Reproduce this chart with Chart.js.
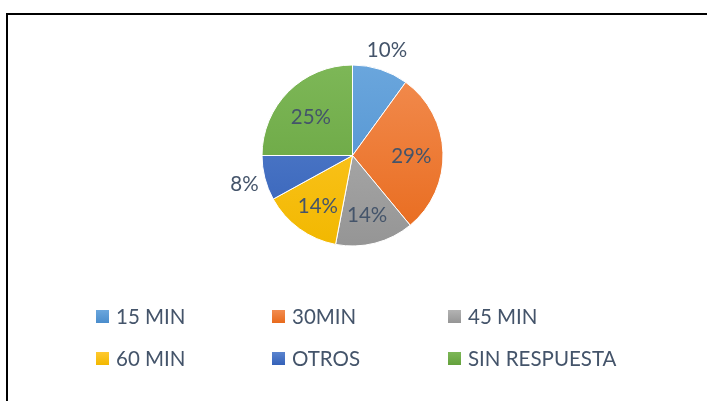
<!DOCTYPE html>
<html>
<head>
<meta charset="utf-8">
<script src="https://cdn.jsdelivr.net/npm/chart.js@4/dist/chart.umd.min.js"></script>
<style>
  html, body { margin: 0; padding: 0; background: #fff; }
  #wrap { position: relative; width: 707px; height: 401px; overflow: hidden; }
  #frame { position: absolute; left: 6px; top: 13px; width: 720px; height: 420px;
           border-top: 2px solid #000; border-left: 2px solid #000; box-sizing: border-box; }
  canvas { position: absolute; left: 0; top: 0; }
  .item { position: absolute; display: flex; align-items: center; height: 28px; white-space: nowrap;
          font-family: Lato, "Open Sans", sans-serif; font-size: 20.5px; color: #44546A; }
  .sw { width: 13px; height: 13px; margin-right: 7px; }
</style>
</head>
<body>
<div id="wrap">
  <div id="frame"></div>
  <canvas id="c" width="707" height="401"></canvas>
</div>
<script>
const categories = ["15 MIN", "30MIN", "45 MIN", "60 MIN", "OTROS", "SIN RESPUESTA"];
const values = [10, 29, 14, 14, 8, 25];
const colorsTop = ["#6aa6dd", "#f28c50", "#b3b3b3", "#ffc930", "#5a84cf", "#7db757"];
const colorsBottom = ["#4a8dcc", "#e86a1c", "#959595", "#f2b800", "#3461b8", "#64a13c"];
const outsideLabels = [true, false, false, false, true, false];

function makeFill(ctx) {
  const chart = ctx.chart;
  const a = chart.chartArea;
  const i = ctx.dataIndex;
  if (!a || i === undefined) return colorsTop[i || 0];
  const g = chart.ctx.createLinearGradient(0, a.top, 0, a.bottom);
  g.addColorStop(0, colorsTop[i]);
  g.addColorStop(1, colorsBottom[i]);
  return g;
}

const labelPlugin = {
  id: 'pctLabels',
  afterDatasetsDraw(chart) {
    const meta = chart.getDatasetMeta(0);
    const c = chart.ctx;
    const total = values.reduce((s, v) => s + v, 0);
    c.save();
    c.font = '20.5px Lato, "Open Sans", sans-serif';
    c.fillStyle = '#44546A';
    c.textAlign = 'center';
    c.textBaseline = 'middle';
    meta.data.forEach((arc, i) => {
      const p = arc.getProps(['x', 'y', 'startAngle', 'endAngle', 'outerRadius'], true);
      const mid = (p.startAngle + p.endAngle) / 2;
      const r = outsideLabels[i] ? p.outerRadius + 21 : p.outerRadius * 0.65;
      const x = p.x + Math.cos(mid) * r;
      const y = p.y + Math.sin(mid) * r + (outsideLabels[i] ? 1 : 3);
      c.fillText(Math.round(values[i] / total * 100) + '%', x, y);
    });
    c.restore();
  }
};

new Chart(document.getElementById('c'), {
  type: 'pie',
  data: {
    labels: categories,
    datasets: [{
      data: values,
      backgroundColor: makeFill,
      borderColor: '#ffffff',
      borderWidth: 1
    }]
  },
  options: {
    responsive: false,
    animation: false,
    layout: { padding: { top: 64.5, bottom: 154.5, left: 261.5, right: 263.5 } },
    plugins: { legend: { display: false }, tooltip: { enabled: false } }
  },
  plugins: [labelPlugin]
});

// HTML legend laid out in a 3-column grid, built from the data arrays
const legendCols = [96, 272, 448];
const legendRows = [316, 358];
const wrap = document.getElementById('wrap');
categories.forEach((name, i) => {
  const d = document.createElement('div');
  d.className = 'item';
  d.style.left = legendCols[i % 3] + 'px';
  d.style.top = (legendRows[Math.floor(i / 3)] - 14) + 'px';
  const sw = document.createElement('span');
  sw.className = 'sw';
  sw.style.background = 'linear-gradient(' + colorsTop[i] + ',' + colorsBottom[i] + ')';
  const t = document.createElement('span');
  t.textContent = name;
  d.appendChild(sw); d.appendChild(t);
  wrap.appendChild(d);
});
</script>
</body>
</html>
